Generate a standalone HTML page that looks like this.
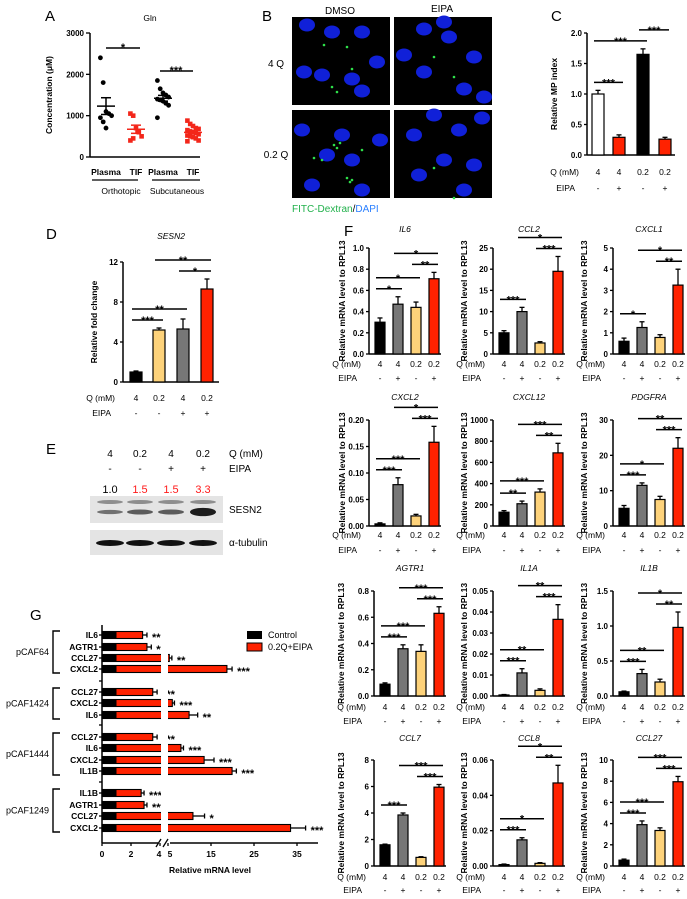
<!DOCTYPE html>
<html><head><meta charset="utf-8"><style>
html,body{margin:0;padding:0;background:#fff}
svg{display:block;font-family:"Liberation Sans",Arial,sans-serif}
</style></head><body>
<svg id="fig" width="687" height="899" viewBox="0 0 687 899" xmlns="http://www.w3.org/2000/svg"></svg>
<script>
// ---------- data ----------
const aGroups=['Plasma','TIF','Plasma','TIF'];
const aOrthoPlasma=[2400,1800,1100,1050,1000,950,850,700];
const aOrthoTIF=[1050,1000,700,600,500,400,450];
const aSubPlasma=[1850,1650,1550,1500,1450,1400,1380,1350,1300,1250,950];
const aSubTIF=[880,800,750,700,680,650,620,600,580,550,520,500,480,450,400,380];
const aTicks=[0,1000,2000,3000];

const cVals=[1.0,0.29,1.65,0.26];
const cErrs=[0.06,0.04,0.09,0.03];
const cTicks=['0.0','0.5','1.0','1.5','2.0'];
const cQ=['4','4','0.2','0.2'];
const cE=['-','+','-','+'];

const dVals=[1,5.2,5.3,9.3];
const dErrs=[0.1,0.2,1.0,1.0];
const dTicks=['0','4','8','12'];
const dQ=['4','0.2','4','0.2'];
const dE=['-','-','+','+'];

const eQ=['4','0.2','4','0.2'];
const eE=['-','-','+','+'];
const eQuant=['1.0','1.5','1.5','3.3'];

const fQ=['4','4','0.2','0.2'];
const fE=['-','+','-','+'];
const il6Vals=[0.3,0.47,0.44,0.71], il6Errs=[0.04,0.07,0.05,0.06], il6Ticks=['0.0','0.2','0.4','0.6','0.8','1.0'];
const ccl2Vals=[5,10,2.6,19.5], ccl2Errs=[0.5,1,0.3,3.5], ccl2Ticks=['0','5','10','15','20','25'];
const cxcl1Vals=[0.6,1.25,0.78,3.25], cxcl1Errs=[0.15,0.27,0.13,0.75], cxcl1Ticks=['0','1','2','3','4','5'];
const cxcl2Vals=[0.004,0.078,0.019,0.158], cxcl2Errs=[0.002,0.013,0.003,0.03], cxcl2Ticks=['0.00','0.05','0.10','0.15','0.20'];
const cxcl12Vals=[130,210,320,690], cxcl12Errs=[15,25,30,90], cxcl12Ticks=['0','200','400','600','800','1000'];
const pdgfraVals=[5,11.5,7.5,22], pdgfraErrs=[0.8,0.7,0.9,3], pdgfraTicks=['0','10','20','30'];
const agtr1Vals=[0.09,0.36,0.34,0.63], agtr1Errs=[0.01,0.03,0.05,0.05], agtr1Ticks=['0.0','0.2','0.4','0.6','0.8'];
const il1aVals=[0.0005,0.011,0.0027,0.0365], il1aErrs=[0.0002,0.002,0.0007,0.007], il1aTicks=['0.00','0.01','0.02','0.03','0.04','0.05'];
const il1bVals=[0.06,0.32,0.2,0.98], il1bErrs=[0.01,0.06,0.04,0.22], il1bTicks=['0.0','0.5','1.0','1.5'];
const ccl7Vals=[1.6,3.85,0.65,5.95], ccl7Errs=[0.05,0.15,0.05,0.2], ccl7Ticks=['0','2','4','6','8'];
const ccl8Vals=[0.0008,0.0148,0.0015,0.047], ccl8Errs=[0.0003,0.0012,0.0004,0.01], ccl8Ticks=['0.00','0.02','0.04','0.06'];
const ccl27Vals=[0.55,3.9,3.35,7.95], ccl27Errs=[0.1,0.35,0.25,0.5], ccl27Ticks=['0','2','4','6','8','10'];

const gGroups=['pCAF64','pCAF1424','pCAF1444','pCAF1249'];
const gGenes=[['IL6','AGTR1','CCL27','CXCL2'],['CCL27','CXCL2','IL6'],['CCL27','IL6','CXCL2','IL1B'],['IL1B','AGTR1','CCL27','CXCL2']];
const gVals=[[2.8,3.1,5.3,18.7],[3.5,6.0,9.9],[3.5,8.0,13.4,19.9],[2.7,2.9,10.8,33.5]];
const gErrs=[[0.3,0.3,0.6,1.2],[0.3,0.5,2.0],[0.3,0.6,2.3,1.0],[0.2,0.2,2.7,3.5]];
const gSig=[['**','**','**','***'],['***','***','**'],['***','***','***','***'],['***','***','*','***']];
const gTickVals=[0,2,4,5,15,25,35];

// ---------- helpers ----------
const NS='http://www.w3.org/2000/svg';
const svg=document.getElementById('fig');
function mk(tag,attrs,name,parent){
  const el=document.createElementNS(NS,tag);
  for(const k in attrs) el.setAttribute(k,attrs[k]);
  
  
  (parent||svg).appendChild(el);return el;
}
function txt(x,y,s,name,o){
  o=o||{};
  const el=mk('text',{x:x,y:y,'font-size':o.fs||8,'font-weight':o.fw||'normal','text-anchor':o.a||'start',fill:o.fill||'#000','font-style':o.it?'italic':'normal'},name);
  if(o.rot) el.setAttribute('transform','rotate(-90 '+x+' '+y+')');
  el.textContent=s;return el;
}
function line(x1,y1,x2,y2,name,w,c){return mk('line',{x1:x1,y1:y1,x2:x2,y2:y2,stroke:c||'#000','stroke-width':w||1.3},name);}
function stars(x,y,s,name){return txt(x,y,s,name,{a:'middle',fw:'bold',fs:11});}

// generic vertical bar chart
function barChart(o){
  const max=parseFloat(o.ticks[o.ticks.length-1]);
  const ys=v=>o.bot-(v/max)*(o.bot-o.top);
  line(o.ax,o.top,o.ax,o.bot,o.id+'-y-axis',1.5);
  line(o.ax,o.bot,o.ax+o.w,o.bot,o.id+'-x-axis',1.5);
  o.ticks.forEach(t=>{const y=ys(parseFloat(t));line(o.ax-3,y,o.ax,y,o.id+'-y-tick');txt(o.ax-5,y+3,t,o.id+'-y-tick-label',{a:'end',fw:'bold',fs:8});});
  const tops=[];
  o.vals.forEach((v,i)=>{
    const cx=o.ax+o.cx[i], y=ys(v), ye=ys(v+o.errs[i]);
    line(cx,ye,cx,y,o.id+'-error-bar');
    line(cx-2.5,ye,cx+2.5,ye,o.id+'-error-cap');
    mk('rect',{x:cx-o.bw/2,y:y,width:o.bw,height:o.bot-y,fill:o.colors[i],stroke:'#000','stroke-width':1.2},o.id+'-bar-'+i);
    tops.push(ye);
    txt(cx,o.qy,o.q[i],o.id+'-q-label',{a:'middle',fs:8.5});
    txt(cx,o.ey,o.e[i],o.id+'-eipa-label',{a:'middle',fs:8.5});
  });
  txt(o.ax-8,o.qy,'Q (mM)',o.id+'-q-title',{a:'end',fs:8.5});
  txt(o.ax-12,o.ey,'EIPA',o.id+'-eipa-title',{a:'end',fs:8.5});
  const placed=[];
  o.sigs.forEach(s=>{
    const [i,j,lab]=s;
    let y=Math.min(...tops.slice(i,j+1))-8;
    placed.forEach(p=>{if(!(p.j<i||p.i>j)) y=Math.min(y,p.y-11);});
    placed.push({i:i,j:j,y:y});
    const x1=o.ax+o.cx[i]-4,x2=o.ax+o.cx[j]+4;
    line(x1,y,x2,y,o.id+'-sig-line',1.5);
    stars((x1+x2)/2,y+4,lab,o.id+'-sig-stars');
  });
  if(o.title) txt(o.ax+o.w/2,o.ty,o.title,o.id+'-title',{a:'middle',it:true,fs:8.5});
  txt(o.ax-o.lo,(o.top+o.bot)/2,o.ylabel,o.id+'-y-axis-title',{a:'middle',fw:'bold',fs:8.5,rot:true});
}

// ---------- panel letters ----------
[['A',45,21],['B',262,21],['C',551,21],['D',46,239],['E',46,454],['F',344,236],['G',30,620]].forEach(p=>txt(p[1],p[2],p[0],'panel-label-'+p[0].toLowerCase(),{fs:15}));

// ---------- Panel A ----------
(function(){
  const ax=90,top=33,bot=157,xr=200,max=3000;
  const ys=v=>bot-v/max*(bot-top);
  line(ax,top,ax,bot,'a-y-axis',1.5);line(ax,bot,xr,bot,'a-x-axis',1.5);
  aTicks.forEach(t=>{line(ax-4,ys(t),ax,ys(t),'a-y-tick');txt(ax-6,ys(t)+3,String(t),'a-y-tick-label',{a:'end',fw:'bold',fs:8});});
  txt(ax-38,(top+bot)/2,'Concentration (μM)','a-y-axis-title',{a:'middle',fw:'bold',fs:8.5,rot:true});
  txt(150,21,'Gln','a-title',{a:'middle',fs:8.5});
  const xs=[106,136,163,193];
  const sets=[aOrthoPlasma,aOrthoTIF,aSubPlasma,aSubTIF];
  sets.forEach((d,g)=>{
    const col=(g%2)?'#f3261a':'#000';
    d.forEach((v,k)=>{
      const dx=((k%5)-2)*2.8;
      if(g%2) mk('rect',{x:xs[g]+dx-2.3,y:ys(v)-2.3,width:4.6,height:4.6,fill:col},'a-point');
      else mk('circle',{cx:xs[g]+dx,cy:ys(v),r:2.4,fill:col},'a-point');
    });
    const mean=d.reduce((a,b)=>a+b,0)/d.length;
    const sd=Math.sqrt(d.reduce((a,b)=>a+(b-mean)*(b-mean),0)/(d.length-1));
    const sem=sd/Math.sqrt(d.length);
    line(xs[g]-9,ys(mean),xs[g]+9,ys(mean),'a-mean-line',1.5,col);
    line(xs[g],ys(mean-sem),xs[g],ys(mean+sem),'a-sem-line',1.5,col);
    line(xs[g]-5,ys(mean+sem),xs[g]+5,ys(mean+sem),'a-sem-cap',1.5,col);
    line(xs[g]-5,ys(mean-sem),xs[g]+5,ys(mean-sem),'a-sem-cap',1.5,col);
    txt(xs[g],175,aGroups[g],'a-x-label',{a:'middle',fw:'bold',fs:8.5});
  });
  line(106,48,140,48,'a-sig-line',1.5);stars(123,51,'*','a-sig-stars');
  line(160,71,193,71,'a-sig-line',1.5);stars(176,74,'***','a-sig-stars');
  line(92,180,138,180,'a-group-underline');line(152,180,200,180,'a-group-underline');
  txt(121,194,'Orthotopic','a-group-label',{a:'middle',fs:8.5});
  txt(177,194,'Subcutaneous','a-group-label',{a:'middle',fs:8.5});
})();

// ---------- Panel B ----------
(function(){
  txt(340,14,'DMSO','b-col-title',{a:'middle',fs:10});
  txt(442,12,'EIPA','b-col-title',{a:'middle',fs:10});
  txt(276,67,'4 Q','b-row-title',{a:'middle',fs:10});
  txt(276,158,'0.2 Q','b-row-title',{a:'middle',fs:10});
  const panels=[[292,17],[394,17],[292,110],[394,110]];
  const nuclei=[
    [[15,8],[40,15],[12,55],[30,58],[60,62],[70,74],[85,45],[70,15]],
    [[30,12],[55,20],[80,40],[30,55],[70,72],[10,38],[50,5],[90,80]],
    [[10,20],[50,25],[35,45],[60,50],[20,75],[70,80],[88,30]],
    [[20,25],[65,20],[50,50],[80,55],[25,65],[70,80],[88,8],[40,5]]];
  const dots=[[[40,70],[45,75],[32,28],[55,30],[60,52]],[[60,60],[40,40]],[[42,35],[45,38],[48,33],[55,68],[58,72],[60,70],[22,48],[30,50],[70,40]],[[40,58],[60,88]]];
  panels.forEach((p,k)=>{
    mk('rect',{x:p[0],y:p[1],width:98,height:88,fill:'#000'},'b-micrograph');
    nuclei[k].forEach(n=>mk('ellipse',{cx:p[0]+n[0],cy:p[1]+n[1],rx:8,ry:6.5,fill:'#1020d8'},'b-nucleus'));
    dots[k].forEach(d=>mk('circle',{cx:p[0]+d[0],cy:p[1]+d[1],r:1.3,fill:'#2ee04a'},'b-dextran-dot'));
  });
  const t=txt(292,212,'','b-caption',{fs:10});
  const s1=document.createElementNS(NS,'tspan');s1.setAttribute('fill','#22b14c');s1.textContent='FITC-Dextran';t.appendChild(s1);
  const s2=document.createElementNS(NS,'tspan');s2.setAttribute('fill','#000');s2.textContent='/';t.appendChild(s2);
  const s3=document.createElementNS(NS,'tspan');s3.setAttribute('fill','#2a7fff');s3.textContent='DAPI';t.appendChild(s3);
})();

// ---------- Panel C ----------
barChart({id:'c',ax:587,top:33,bot:155,w:88,cx:[11,32,56,78],bw:12,ticks:cTicks,vals:cVals,errs:cErrs,
  colors:['#fff','#ff2200','#000','#ff2200'],q:cQ,e:cE,qy:175,ey:191,
  sigs:[[0,1,'***'],[0,2,'***'],[2,3,'***']],ylabel:'Relative MP index',lo:30});

// ---------- Panel D ----------
barChart({id:'d',ax:123,top:262,bot:382,w:96,cx:[13,36,60,84],bw:12,ticks:dTicks,vals:dVals,errs:dErrs,
  colors:['#000','#fdd27a','#777','#ff2200'],q:dQ,e:dE,qy:401,ey:416,
  sigs:[[0,1,'***'],[0,2,'**'],[2,3,'*'],[1,3,'**']],title:'SESN2',ty:239,ylabel:'Relative fold change',lo:26});

// ---------- Panel E ----------
(function(){
  const xs=[110,140,171,203];
  eQ.forEach((q,i)=>txt(xs[i],457,q,'e-q-label',{a:'middle',fs:10}));
  eE.forEach((q,i)=>txt(xs[i],472,q,'e-eipa-label',{a:'middle',fs:10}));
  eQuant.forEach((q,i)=>txt(xs[i],493,q,'e-quant-label',{a:'middle',fs:11,fill:i?'#ff1a1a':'#000'}));
  txt(229,457,'Q (mM)','e-q-title',{fs:10});txt(229,472,'EIPA','e-eipa-title',{fs:10});
  mk('rect',{x:90,y:496,width:133,height:27,fill:'#e4e4e4'},'e-sesn2-blot');
  mk('rect',{x:90,y:530,width:133,height:25,fill:'#e4e4e4'},'e-tubulin-blot');
  eQuant.forEach((q,i)=>{
    const v=parseFloat(q);
    mk('ellipse',{cx:xs[i],cy:502,rx:13,ry:2,fill:'#555',opacity:0.6},'e-band-upper');
    mk('ellipse',{cx:xs[i],cy:512,rx:13,ry:1.2+v*0.9,fill:'#111',opacity:Math.min(0.35+v*0.2,0.95)},'e-band-sesn2');
    mk('ellipse',{cx:xs[i],cy:543,rx:14,ry:3,fill:'#111'},'e-band-tubulin');
  });
  txt(229,513,'SESN2','e-sesn2-label',{fs:10});
  txt(229,546,'α-tubulin','e-tubulin-label',{fs:10});
})();

// ---------- Panel F ----------
const fCols=[369,493,613];
const fRows=[[248,354,232,367,381],[420,526,400,538,553],[591,696,571,710,724],[760,866,741,880,893]];
const fCharts=[
 ['IL6',il6Vals,il6Errs,il6Ticks,[[0,1,'*'],[0,2,'*'],[2,3,'**'],[1,3,'*']]],
 ['CCL2',ccl2Vals,ccl2Errs,ccl2Ticks,[[0,1,'***'],[2,3,'***'],[1,3,'*']]],
 ['CXCL1',cxcl1Vals,cxcl1Errs,cxcl1Ticks,[[0,1,'*'],[2,3,'**'],[1,3,'*']]],
 ['CXCL2',cxcl2Vals,cxcl2Errs,cxcl2Ticks,[[0,1,'***'],[0,2,'***'],[2,3,'***'],[1,3,'*']]],
 ['CXCL12',cxcl12Vals,cxcl12Errs,cxcl12Ticks,[[0,1,'**'],[0,2,'***'],[2,3,'**'],[1,3,'***']]],
 ['PDGFRA',pdgfraVals,pdgfraErrs,pdgfraTicks,[[0,1,'***'],[0,2,'*'],[2,3,'***'],[1,3,'**']]],
 ['AGTR1',agtr1Vals,agtr1Errs,agtr1Ticks,[[0,1,'***'],[0,2,'***'],[2,3,'***'],[1,3,'***']]],
 ['IL1A',il1aVals,il1aErrs,il1aTicks,[[0,1,'***'],[0,2,'**'],[2,3,'***'],[1,3,'**']]],
 ['IL1B',il1bVals,il1bErrs,il1bTicks,[[0,1,'***'],[0,2,'**'],[2,3,'**'],[1,3,'*']]],
 ['CCL7',ccl7Vals,ccl7Errs,ccl7Ticks,[[0,1,'***'],[2,3,'***'],[1,3,'***']]],
 ['CCL8',ccl8Vals,ccl8Errs,ccl8Ticks,[[0,1,'***'],[0,2,'*'],[2,3,'**'],[1,3,'*']]],
 ['CCL27',ccl27Vals,ccl27Errs,ccl27Ticks,[[0,1,'***'],[0,2,'***'],[2,3,'***'],[1,3,'***']]]];
fCharts.forEach((c,k)=>{
  const r=fRows[Math.floor(k/3)], ax=fCols[k%3]+(k>=6&&k%3==0?5:0);
  barChart({id:'f-'+c[0].toLowerCase(),ax:ax,top:r[0],bot:r[1],w:72,cx:[11,29,47,65],bw:10,ticks:c[3],vals:c[1],errs:c[2],
    colors:['#000','#777','#fdd27a','#ff2200'],q:fQ,e:fE,qy:r[3],ey:r[4],sigs:c[4],title:c[0],ty:r[2],
    ylabel:'Relative mRNA level to RPL13',lo:ax<400?(k>=6?30:24):26});
});

// ---------- Panel G ----------
(function(){
  const ax=102, xb=843;
  const xs=v=>v<=4?ax+v*14.5:168+(v-5)*4.3;
  const rowYs=[[635,647,658,669],[692,703,715],[737,748,760,771],[793,805,816,828]];
  line(ax,625,ax,xb,'g-y-axis',1.5);
  line(ax,xb,158,xb,'g-x-axis-left',1.5);line(170,xb,318,xb,'g-x-axis-right',1.5);
  line(156,xb+4,161,xb-4,'g-axis-break');line(163,xb+4,168,xb-4,'g-axis-break');
  gTickVals.forEach(t=>{const x=xs(t);line(x,xb,x,xb+3,'g-x-tick');txt(x+(t==4?-1:t==5?2:0),xb+14,String(t),'g-x-tick-label',{a:'middle',fw:'bold',fs:8.5});});
  txt(210,873,'Relative mRNA level','g-x-axis-title',{a:'middle',fw:'bold',fs:8.5});
  [681,725,782].forEach(y=>line(ax-3,y,ax,y,'g-group-tick'));
  gGroups.forEach((g,gi)=>{
    const ys=rowYs[gi];
    gGenes[gi].forEach((gene,k)=>{
      const y=ys[k], v=gVals[gi][k], e=gErrs[gi][k];
      line(ax-3,y,ax,y,'g-y-tick');
      txt(ax-4,y+3,gene,'g-gene-label',{a:'end',fw:'bold',fs:8.5});
      mk('rect',{x:ax,y:y-3.5,width:xs(v)-ax,height:7,fill:'#ff2200',stroke:'#000','stroke-width':1.1},'g-bar-treated');
      mk('rect',{x:ax,y:y-3.5,width:xs(1)-ax,height:7,fill:'#000'},'g-bar-control');
      line(xs(v),y,xs(v+e),y,'g-error-bar');line(xs(v+e),y-2.5,xs(v+e),y+2.5,'g-error-cap');
      txt(xs(v+e)+5,y+6,gSig[gi][k],'g-sig-stars',{fw:'bold',fs:11});
    });
    mk('rect',{x:161,y:ys[0]-5,width:7,height:ys[ys.length-1]-ys[0]+10,fill:'#fff'},'g-break-gap');
    const y1=ys[0]-4,y2=ys[ys.length-1]+4;
    mk('path',{d:`M60 ${y1} H53 V${y2} H60`,fill:'none',stroke:'#000','stroke-width':1.4},'g-group-bracket');
    txt(49,(y1+y2)/2+3,g,'g-group-label',{a:'end',fs:9});
  });
  mk('rect',{x:247,y:631,width:15,height:8,fill:'#000'},'g-legend-swatch-control');
  txt(268,638,'Control','g-legend-label',{fs:9});
  mk('rect',{x:247,y:643,width:15,height:8,fill:'#ff2200',stroke:'#000','stroke-width':1},'g-legend-swatch-treated');
  txt(268,650,'0.2Q+EIPA','g-legend-label',{fs:9});
})();
</script>
</body></html>
